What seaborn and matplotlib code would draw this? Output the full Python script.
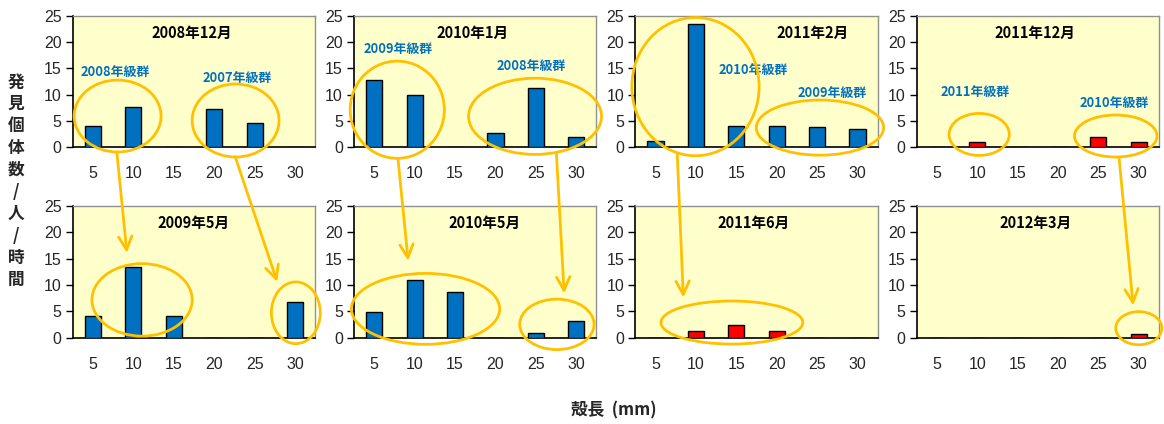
import numpy as np
import matplotlib.pyplot as plt
import seaborn as sns
from matplotlib.patches import Ellipse, ConnectionPatch

# ---------------------------------------------------------
# データ
# ---------------------------------------------------------
sizes = ["5", "10", "15", "20", "25", "30"]

counts_200812 = [4.0, 7.7, 0, 7.3, 4.6, 0]
counts_201001 = [12.7, 9.9, 0, 2.7, 11.3, 2.0]
counts_201102 = [1.1, 23.4, 4.0, 4.0, 3.8, 3.5]
counts_201112 = [0, 1.0, 0, 0, 2.0, 1.0]
counts_200905 = [4.0, 13.4, 4.0, 0, 0, 6.7]
counts_201005 = [4.8, 10.9, 8.7, 0, 0.8, 3.1]
counts_201106 = [0, 1.3, 2.3, 1.3, 0, 0]
counts_201203 = [0, 0, 0, 0, 0, 0.7]

titles = ["2008年12月", "2010年1月", "2011年2月", "2011年12月",
          "2009年5月", "2010年5月", "2011年6月", "2012年3月"]
counts = [counts_200812, counts_201001, counts_201102, counts_201112,
          counts_200905, counts_201005, counts_201106, counts_201203]
bar_colors = ["#0070C0", "#0070C0", "#0070C0", "#FF0000",
              "#0070C0", "#0070C0", "#FF0000", "#FF0000"]
title_x = [0.49, 0.49, 0.73, 0.49, 0.5, 0.54, 0.49, 0.49]

# 年級群ラベル (panel, x, y, text)
cohort_labels = [
    (0, 0.56, 14.2, "2008年級群"), (0, 3.57, 13.2, "2007年級群"),
    (1, 0.59, 18.6, "2009年級群"), (1, 3.89, 15.4, "2008年級群"),
    (2, 2.41, 14.7, "2010年級群"), (2, 4.37, 10.2, "2009年級群"),
    (3, 0.95, 10.5, "2011年級群"), (3, 4.38, 8.3, "2010年級群"),
]
# 楕円 (panel, x, y, width, height)
ellipses = [
    (0, 0.61, 5.9, 2.15, 13.7), (0, 3.53, 5.05, 2.15, 13.9),
    (1, 0.57, 7.1, 2.33, 18.5), (1, 3.98, 5.85, 3.29, 14.5),
    (2, 0.99, 11.5, 3.15, 26.3), (2, 4.07, 3.7, 3.15, 10.5),
    (3, 1.05, 2.4, 1.49, 8.0), (3, 4.43, 2.1, 2.04, 8.0),
    (4, 1.215, 7.16, 2.48, 13.8), (4, 5.02, 4.7, 1.21, 11.75),
    (5, 1.27, 5.45, 3.67, 13.5), (5, 4.52, 2.5, 1.84, 9.6),
    (6, 1.89, 2.85, 3.51, 8.2),
    (7, 5.0, 1.77, 1.14, 6.3),
]
# 矢印 (panelA, xA, yA, panelB, xB, yB)
arrows = [
    (0, 0.59, -0.9, 4, 0.84, 16.1),
    (0, 3.52, -1.85, 4, 4.56, 10.6),
    (1, 0.59, -2.4, 5, 0.84, 14.6),
    (1, 4.51, -1.4, 5, 4.70, 8.4),
    (2, 0.54, -1.5, 6, 0.69, 7.6),
    (3, 4.51, -1.9, 7, 4.86, 6.1),
]

# ---------------------------------------------------------
# 描画
# ---------------------------------------------------------
sns.set_theme(style="white")
plt.rcParams['font.family'] = ['Liberation Sans', 'Noto Sans CJK JP']
cjk = ['Noto Sans CJK JP', 'DejaVu Sans']
orange = "#FFC000"

fig, axes = plt.subplots(2, 4, figsize=(11.64, 4.24), dpi=100)
fig.subplots_adjust(left=0.0625, right=0.9957, top=0.963, bottom=0.204,
                    wspace=0.16, hspace=0.45)
axes = axes.flatten()

for i, ax in enumerate(axes):
    sns.barplot(x=sizes, y=counts[i], color=bar_colors[i], saturation=1,
                edgecolor="black", linewidth=1, width=0.4, ax=ax, zorder=3)
    ax.set_facecolor("#FFFFCC")
    ax.set_ylim(0, 25)
    ax.set_yticks(np.arange(0, 26, 5))
    ax.set_xlim(-0.5, 5.5)
    ax.set_xticks(np.arange(-0.5, 6, 1), minor=True)
    ax.tick_params(axis='x', which='major', length=0, pad=14, labelsize=11.5)
    ax.tick_params(axis='x', which='minor', length=6, width=1, color='black', direction='out')
    ax.tick_params(axis='y', length=5, width=1, color='black', direction='out',
                   labelsize=11.5, pad=3, left=True)
    ax.set_xlabel('')
    ax.set_ylabel('')
    for s in ['top', 'right']:
        ax.spines[s].set_color('#909090')
        ax.spines[s].set_linewidth(1)
    for s in ['left', 'bottom']:
        ax.spines[s].set_color('black')
        ax.spines[s].set_linewidth(1.2)
    ax.text(title_x[i], 0.87, titles[i], transform=ax.transAxes, ha='center', va='center',
            fontsize=10.5, fontweight='bold', family=cjk, color='black')

for p, x, y, t in cohort_labels:
    axes[p].text(x, y, t, ha='center', va='center', fontsize=9.3, fontweight='bold',
                 family=cjk, color="#0070C0", zorder=5)

for p, x, y, w, h in ellipses:
    axes[p].add_patch(Ellipse((x, y), w, h, fill=False, edgecolor=orange,
                              linewidth=2, clip_on=False, zorder=6))

for pa, xa, ya, pb, xb, yb in arrows:
    con = ConnectionPatch(xyA=(xa, ya), coordsA=axes[pa].transData,
                          xyB=(xb, yb), coordsB=axes[pb].transData,
                          arrowstyle="->,head_length=0.6,head_width=0.3", color=orange,
                          linewidth=2, mutation_scale=16, zorder=7)
    fig.add_artist(con)

# 軸ラベル
fig.text(16 / 1164, 1 - 181 / 424, "\n".join("発見個体数/人/時間"), ha='center', va='center',
         fontsize=12, fontweight='bold', family=cjk, linespacing=1.28)
fig.text(614 / 1164, 1 - 410 / 424, "殻長  (mm)", ha='center', va='center',
         fontsize=12, fontweight='bold', family=cjk)

plt.savefig("out.png", dpi=100)
